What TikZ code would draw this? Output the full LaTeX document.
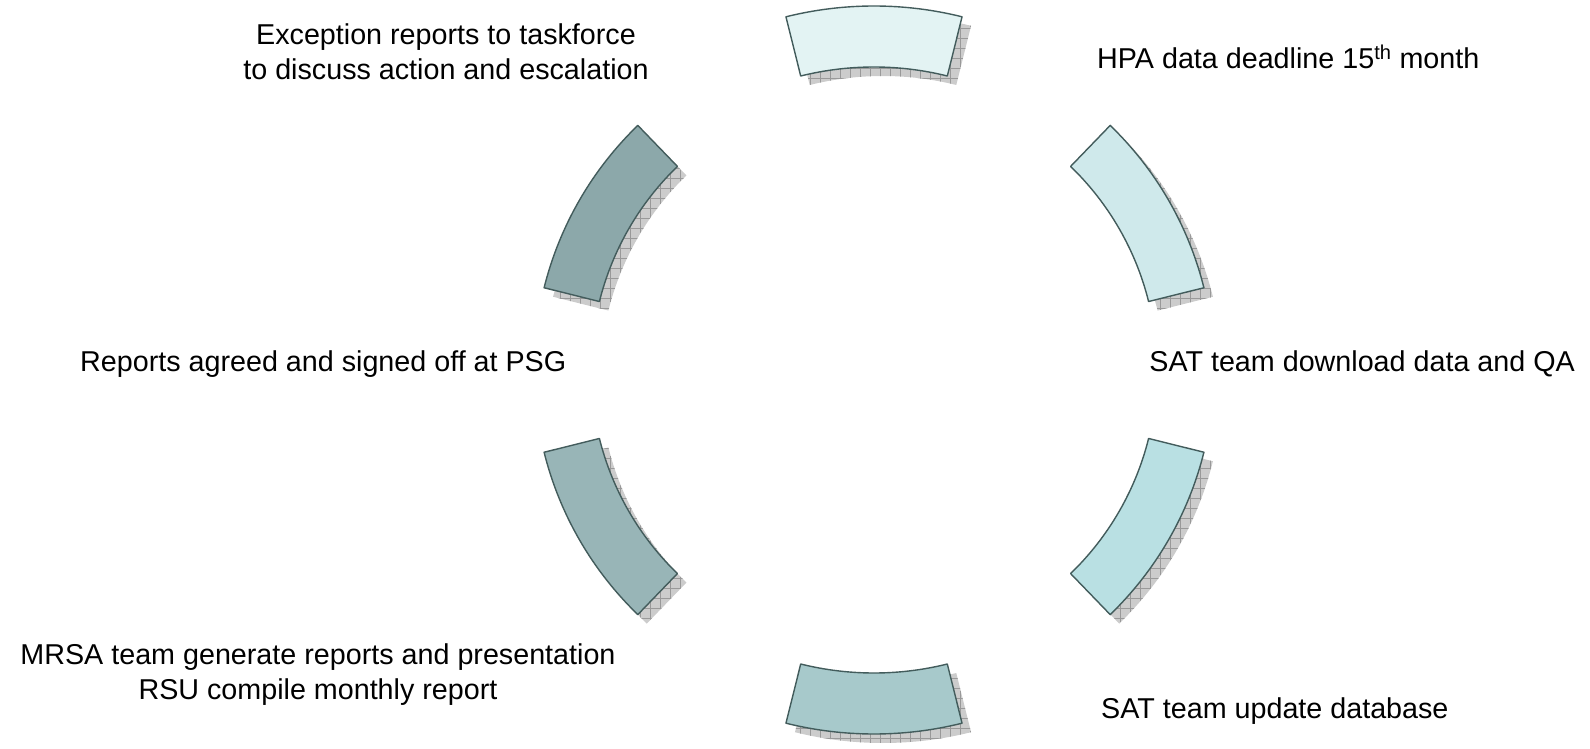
\documentclass[tikz,border=0pt]{standalone}
\usepackage{fontspec}
\setmainfont{Liberation Sans}
\usetikzlibrary{patterns}

\definecolor{segline}{HTML}{435C5C}
\definecolor{segA}{HTML}{E3F3F3}
\definecolor{segB}{HTML}{CFE9EB}
\definecolor{segC}{HTML}{B9E0E3}
\definecolor{segD}{HTML}{A7C9CB}
\definecolor{segE}{HTML}{98B5B7}
\definecolor{segF}{HTML}{8CA8AA}

% square grid used for the drop shadows
\pgfdeclarepatternformonly{shadowgrid}{\pgfpoint{-1pt}{-1pt}}{\pgfpoint{11pt}{11pt}}{\pgfpoint{10pt}{10pt}}{
  \pgfsetlinewidth{0.8pt}
  \pgfpathmoveto{\pgfpoint{0pt}{0pt}}\pgfpathlineto{\pgfpoint{10.5pt}{0pt}}
  \pgfpathmoveto{\pgfpoint{0pt}{0pt}}\pgfpathlineto{\pgfpoint{0pt}{10.5pt}}
  \pgfusepath{stroke}}

\tikzset{
  segment/.style    = {draw=segline, line width=1.4pt, line join=round},
  shadowseg/.style  = {preaction={fill=gray!40}, pattern=shadowgrid,
                       pattern color=gray!80},
  cyclelabel/.style = {inner sep=0pt, align=center,
                       font=\fontsize{28.7}{35}\selectfont}
}

\begin{document}
\begin{tikzpicture}[x=1pt, y=1pt]
  \useasboundingbox (0,0) rectangle (1590,748);

  \begin{scope}[shift={(874,378)}]
    % shadows first, then the ring segments on top
    \foreach \a/\h/\ri/\ro in {90/14/303/364, 30/16/283/340, -30/16/283/340,
                               -90/14/303/364, 210/16/283/340, 150/16/283/340}
      \path[shadowseg, shift={(9,-9)}] (\a-\h:\ro) arc[start angle=\a-\h, end angle=\a+\h, radius=\ro]
        -- (\a+\h:\ri) arc[start angle=\a+\h, end angle=\a-\h, radius=\ri] -- cycle;
    \foreach \a/\h/\ri/\ro/\c in {90/14/303/364/segA, 30/16/283/340/segB, -30/16/283/340/segC,
                                  -90/14/303/364/segD, 210/16/283/340/segE, 150/16/283/340/segF}
      \path[segment, fill=\c] (\a-\h:\ro) arc[start angle=\a-\h, end angle=\a+\h, radius=\ro]
        -- (\a+\h:\ri) arc[start angle=\a+\h, end angle=\a-\h, radius=\ri] -- cycle;
  \end{scope}

  \node[cyclelabel, anchor=north]     (escalate) at (446,724.5) {Exception reports to taskforce\\to discuss action and escalation};
  \node[cyclelabel, anchor=base west] (deadline) at (1097,679) {HPA data deadline 15\textsuperscript{th} month};
  \node[cyclelabel, anchor=base east] (download) at (1575,377) {SAT team download data and QA};
  \node[cyclelabel, anchor=base west] (update)   at (1101,30)  {SAT team update database};
  \node[cyclelabel, anchor=north]     (generate) at (318,105)  {MRSA team generate reports and presentation\\RSU compile monthly report};
  \node[cyclelabel, anchor=base west] (signoff)  at (80,377)   {Reports agreed and signed off at PSG};
\end{tikzpicture}
\end{document}
